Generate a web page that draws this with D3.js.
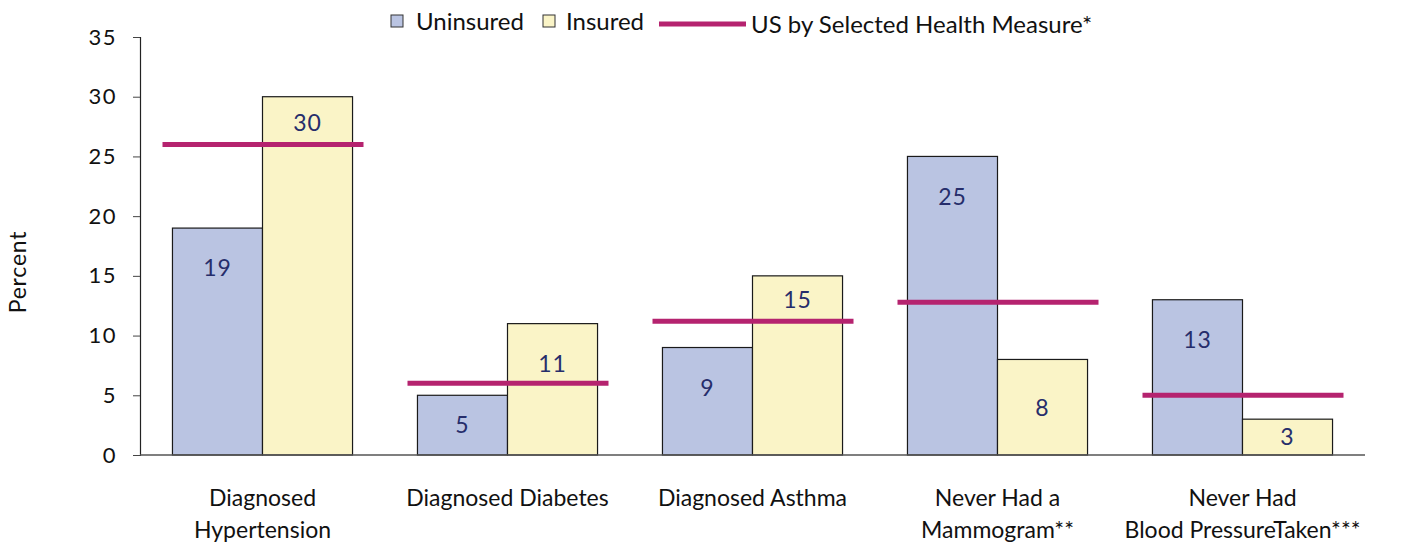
<!DOCTYPE html>
<html><head><meta charset="utf-8">
<script src="https://cdn.jsdelivr.net/npm/d3@7"></script>
<style>body{margin:0;background:#fff}svg{display:block}text{font-family:Lato,"Open Sans",sans-serif}</style>
</head><body>
<svg id="c" width="1405" height="544"></svg>
<script>
const categories = [["Diagnosed","Hypertension"],["Diagnosed Diabetes"],["Diagnosed Asthma"],["Never Had a","Mammogram**"],["Never Had","Blood PressureTaken***"]];
const uninsured = [19, 5, 9, 25, 13];
const insured = [30, 11, 15, 8, 3];
const usMeasure = [26, 6, 11.2, 12.8, 5];
const yTicks = [0,5,10,15,20,25,30,35];
const seriesNames = ["Uninsured","Insured","US by Selected Health Measure*"];

const svg = d3.select("#c");
const colU = "#bac4e2", colI = "#faf4c7", colL = "#b5236f", colT = "#262d6b";
const keys = categories.map((c,i)=>i);
const x = d3.scaleBand().domain(keys).range([140,1365]).paddingInner(0.265).paddingOuter(0.1325);
const y = d3.scaleLinear().domain([0,35]).range([455,37]);
const bw = x.bandwidth()/2;

// y axis
const ya = svg.append("g").attr("transform","translate(140,0)")
  .call(d3.axisLeft(y).tickValues(yTicks).tickSize(7).tickPadding(16).tickFormat(d3.format("d")));
ya.select(".domain").attr("stroke","#222").attr("stroke-width",1.2);
ya.selectAll(".tick line").attr("stroke","#444");
ya.selectAll("text").attr("font-size",22).attr("letter-spacing",1.5).attr("fill","#111").attr("font-family","Lato,sans-serif");

svg.append("text").attr("transform","translate(26,272) rotate(-90)").attr("text-anchor","middle")
  .attr("font-size",23).attr("letter-spacing",0.8).attr("fill","#111").text("Percent");

// bars
const groups = svg.append("g");
function drawBars(vals, off, fill){
  groups.selectAll(null).data(vals).join("rect")
    .attr("x",(d,i)=>x(i)+off).attr("y",d=>y(d)).attr("width",bw).attr("height",d=>y(0)-y(d))
    .attr("fill",fill).attr("stroke","#1a1a1a").attr("stroke-width",1.2);
}
drawBars(uninsured,0,colU);
drawBars(insured,bw,colI);

// baseline
svg.append("line").attr("x1",140).attr("x2",1365).attr("y1",y(0)).attr("y2",y(0)).attr("stroke","#555").attr("stroke-width",1.5);

// US lines
svg.selectAll(null).data(usMeasure).join("line")
  .attr("x1",(d,i)=>x(i)+bw-100).attr("x2",(d,i)=>x(i)+bw+101)
  .attr("y1",d=>y(d)).attr("y2",d=>y(d)).attr("stroke",colL).attr("stroke-width",5);

// value labels
function labelY(v, i){
  const top = y(v), h = y(0)-top;
  if (h < 100) return top + h/2;
  let ly = top + 40;
  const ln = y(usMeasure[i]);
  if (Math.abs(ly - ln) < 14) ly = ln - 22;
  return ly;
}
function drawLabels(vals, off){
  svg.selectAll(null).data(vals).join("text")
    .attr("x",(d,i)=>x(i)+off+bw/2).attr("y",(d,i)=>labelY(d,i)).attr("dy","0.36em")
    .attr("text-anchor","middle").attr("font-size",23).attr("letter-spacing",1).attr("fill",colT).text(d=>d);
}
drawLabels(uninsured,0);
drawLabels(insured,bw);

// category labels
categories.forEach((lines,i)=>{
  const t = svg.append("text").attr("x",x(i)+bw).attr("text-anchor","middle").attr("font-size",23).attr("fill","#111");
  lines.forEach((s,j)=>t.append("tspan").attr("x",x(i)+bw).attr("y",506+j*32).text(s));
});

// legend
const lg = svg.append("g");
lg.append("rect").attr("x",391).attr("y",15).attr("width",12).attr("height",12).attr("fill",colU).attr("stroke","#333");
lg.append("text").attr("x",416).attr("y",30).attr("font-size",24).attr("fill","#111").text(seriesNames[0]);
lg.append("rect").attr("x",543).attr("y",15).attr("width",12).attr("height",12).attr("fill",colI).attr("stroke","#333");
lg.append("text").attr("x",566).attr("y",30).attr("font-size",24).attr("fill","#111").text(seriesNames[1]);
lg.append("line").attr("x1",659).attr("x2",746).attr("y1",24).attr("y2",24).attr("stroke",colL).attr("stroke-width",5);
lg.append("text").attr("x",751).attr("y",33).attr("font-size",24).attr("fill","#111").text(seriesNames[2]);
</script>
</body></html>
